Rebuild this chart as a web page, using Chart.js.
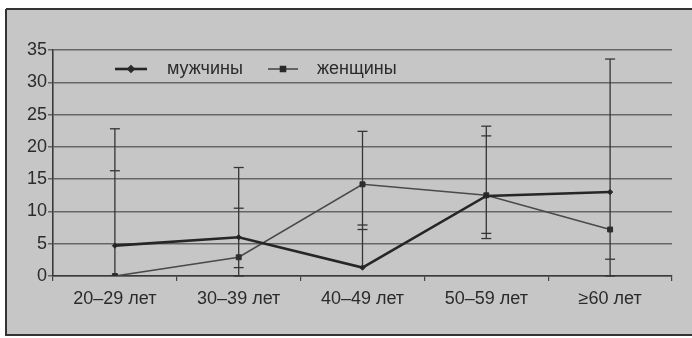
<!DOCTYPE html>
<html><head><meta charset="utf-8">
<script src="https://cdn.jsdelivr.net/npm/chart.js@4"></script>
<style>html,body{margin:0;padding:0;background:#fff;}#wrap{width:692px;height:338px;position:relative;}</style>
</head><body><div id="wrap"><canvas id="c" width="692" height="338"></canvas></div>
<script>
const categories = ['20–29 лет', '30–39 лет', '40–49 лет', '50–59 лет', '≥60 лет'];
const yTicks = [0, 5, 10, 15, 20, 25, 30, 35];
const seriesNames = ['мужчины', 'женщины'];
const men = [4.7, 6.0, 1.3, 12.4, 13.0];
const women = [0, 2.9, 14.2, 12.5, 7.2];
const menHigh = [16.3, 10.5, 7.2, 21.7, 33.6];
const menLow = [null, 1.3, null, 5.8, 0];
const womenHigh = [22.8, 16.8, 22.4, 23.2, null];
const womenLow = [null, 0, 7.9, 6.6, 2.6];

const FONT = "'Liberation Sans', Arial, sans-serif";
const TXT = '#2b2b2b';

const bgPlugin = {
  id: 'bg',
  beforeDraw(chart) {
    const ctx = chart.ctx;
    ctx.save();
    ctx.fillStyle = '#fff';
    ctx.fillRect(0, 0, chart.width, chart.height);
    ctx.fillStyle = '#c6c6c6';
    ctx.fillRect(6, 9, chart.width - 6, 326);
    ctx.strokeStyle = '#333';
    ctx.lineWidth = 2;
    ctx.beginPath();
    ctx.moveTo(6, 9); ctx.lineTo(6, 335); ctx.lineTo(chart.width, 335);
    ctx.moveTo(6, 9); ctx.lineTo(chart.width, 9);
    ctx.stroke();
    ctx.restore();
  }
};

const errPlugin = {
  id: 'err',
  beforeDatasetsDraw(chart) {
    const ctx = chart.ctx, x = chart.scales.x, y = chart.scales.y;
    ctx.save();
    ctx.strokeStyle = '#353535';
    ctx.lineWidth = 1.3;
    categories.forEach((c, i) => {
      const vals = [men[i], women[i], menHigh[i], menLow[i], womenHigh[i], womenLow[i]].filter(v => v !== null);
      const px = x.getPixelForValue(i);
      const lo = Math.min(...vals), hi = Math.max(...vals);
      ctx.beginPath();
      ctx.moveTo(px, y.getPixelForValue(lo));
      ctx.lineTo(px, y.getPixelForValue(hi));
      ctx.stroke();
      [menHigh[i], menLow[i], womenHigh[i], womenLow[i]].forEach(v => {
        if (v === null) return;
        const py = y.getPixelForValue(v);
        ctx.beginPath();
        ctx.moveTo(px - 5, py); ctx.lineTo(px + 5, py);
        ctx.stroke();
      });
    });
    ctx.restore();
  }
};

const legendPlugin = {
  id: 'lg',
  afterDraw(chart) {
    const ctx = chart.ctx;
    ctx.save();
    const yy = 69;
    const items = [
      {x1: 115, x2: 147, tx: 167, ds: chart.data.datasets[0], r: 2.5},
      {x1: 268, x2: 298, tx: 317, ds: chart.data.datasets[1], r: 3.5}
    ];
    items.forEach(it => {
      ctx.strokeStyle = it.ds.borderColor;
      ctx.lineWidth = it.ds.borderWidth;
      ctx.beginPath(); ctx.moveTo(it.x1, yy); ctx.lineTo(it.x2, yy); ctx.stroke();
      ctx.fillStyle = '#2a2a2a';
      ctx.strokeStyle = '#2a2a2a';
      Chart.helpers.drawPoint(ctx, {pointStyle: it.ds.pointStyle, radius: it.r, borderWidth: 1, rotation: 0}, (it.x1 + it.x2) / 2, yy);
      ctx.fillStyle = TXT;
      ctx.font = '18px ' + FONT;
      ctx.textBaseline = 'middle';
      ctx.fillText(it.ds.label, it.tx, yy);
    });
    ctx.restore();
  }
};

new Chart(document.getElementById('c'), {
  type: 'line',
  data: {
    labels: categories,
    datasets: [
      {label: seriesNames[0], data: men, borderColor: '#262626', backgroundColor: '#262626', borderWidth: 2.6,
       pointStyle: 'rectRot', pointRadius: 2.6, pointBorderWidth: 1, tension: 0},
      {label: seriesNames[1], data: women, borderColor: '#4a4a4a', backgroundColor: '#2e2e2e', borderWidth: 1.6,
       pointStyle: 'rect', pointRadius: 3.5, pointBorderColor: '#2e2e2e', pointBorderWidth: 1, tension: 0}
    ]
  },
  options: {
    responsive: false,
    devicePixelRatio: 1,
    animation: false,
    layout: {padding: {left: 6, top: 50, right: 20, bottom: 0}},
    plugins: {legend: {display: false}, tooltip: {enabled: false}},
    scales: {
      x: {
        type: 'category',
        offset: true,
        afterFit(s) { s.height = 62; },
        grid: {display: true, offset: true, drawOnChartArea: false, drawTicks: true, tickLength: 5, color: '#444', lineWidth: 1.2},
        border: {display: true, color: '#3a3a3a', width: 1.6},
        ticks: {color: TXT, font: {family: FONT, size: 18}, padding: 7, maxRotation: 0}
      },
      y: {
        min: 0, max: 35,
        afterFit(s) { s.width = 47; },
        afterBuildTicks(s) { s.ticks = yTicks.map(v => ({value: v})); },
        grid: {color: '#666', lineWidth: 1.5, drawTicks: true, tickLength: 5},
        border: {display: true, color: '#3a3a3a', width: 1.6},
        ticks: {color: TXT, font: {family: FONT, size: 18}, padding: 1}
      }
    }
  },
  plugins: [bgPlugin, errPlugin, legendPlugin]
});
</script></body></html>
